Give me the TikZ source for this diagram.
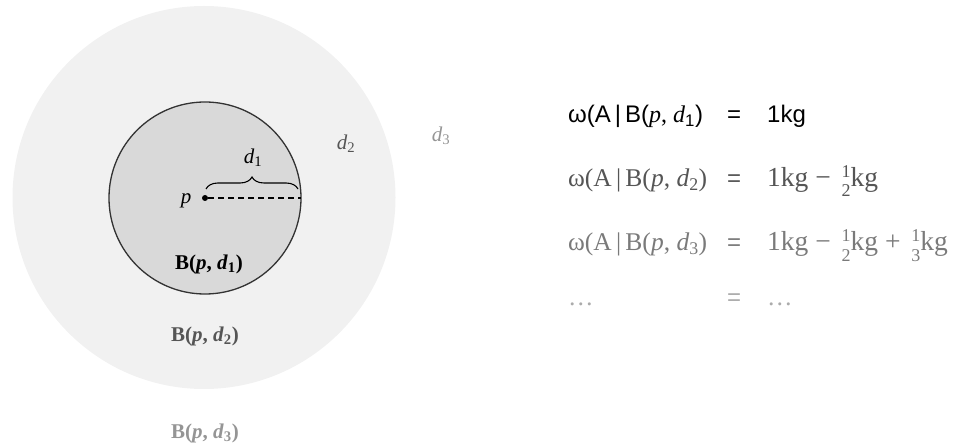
\documentclass[tikz,border=0pt]{standalone}
\usepackage{fontspec}
\setmainfont{Liberation Serif}
\newfontfamily\sansA{Liberation Sans}
\usetikzlibrary{decorations.pathreplacing}
\definecolor{outerfill}{HTML}{F1F1F1}
\definecolor{innerfill}{HTML}{D9D9D9}
\definecolor{edgecol}{HTML}{333333}
\definecolor{grayA}{HTML}{555555}
\definecolor{grayB}{HTML}{7A7A7A}
\definecolor{grayC}{HTML}{ABABAB}
\definecolor{grayD}{HTML}{959595}
\tikzset{
  lbl/.style={inner sep=0pt, font=\fontsize{21}{24}\selectfont},
  eq/.style={inner sep=0pt, anchor=base west, font=\fontsize{25.5}{28}\selectfont},
  eqr/.style={inner sep=0pt, anchor=base west, font=\fontsize{27.5}{30}\selectfont},
  eqs/.style={inner sep=0pt, anchor=base west, font=\sansA\fontsize{24}{28}\selectfont},
}
\newcommand{\halfkg}[2]{\hspace{4pt}\rlap{\raisebox{9pt}{\fontsize{18}{18}\selectfont #1}}\raisebox{-10pt}{\fontsize{18}{18}\selectfont #2}kg}
\begin{document}
\begin{tikzpicture}[x=1pt,y=-1pt]
\useasboundingbox (0,0) rectangle (960,446);
% circles
\fill[outerfill] (204,197.5) circle (191.5);
\draw[edgecol, fill=innerfill, line width=1.3pt] (205,198) circle (96);
\node[circle, fill=black, inner sep=0pt, minimum size=6pt] (p) at (205,198) {};
\coordinate (rim) at (301,198);
\draw[dashed, dash pattern=on 6pt off 4pt, line width=1.1pt] (p) -- (rim);
\draw[decorate, decoration={brace, amplitude=12pt}, line width=1.1pt] (206,189) -- (298,189);
\node[lbl] (d1) at (253,158) {\textit{d}\textsubscript{1}};
\node[lbl] (plbl) at (186,201) {\textit{p}};
\node[lbl] (b1) at (209,264) {\textbf{B(\textit{p}, \textit{d}\textsubscript{1})}};
\node[lbl, text=grayA] (b2) at (205,336) {\textbf{B(\textit{p}, \textit{d}\textsubscript{2})}};
\node[lbl, text=grayD] (b3) at (205,433) {\textbf{B(\textit{p}, \textit{d}\textsubscript{3})}};
\node[lbl, text=grayA] (d2) at (346,144) {\textit{d}\textsubscript{2}};
\node[lbl, text=grayD] (d3) at (441,136) {\textit{d}\textsubscript{3}};
% equations
\node[eqs] (l1) at (568,123) {ω(A\,|\,B(\rmfamily\textit{p}, \textit{d}\textsubscript{\sansA 1}\sansA)};
\node[eqs] (e1) at (727,123) {=};
\node[eqs] (r1) at (767,123) {1kg};
\node[eq, text=grayA] (l2) at (568,187) {ω(A\,|\,B(\textit{p}, \textit{d}\textsubscript{2})};
\node[eqs, text=grayA] (e2) at (727,187) {=};
\node[eqr, text=grayA] (r2) at (767,187) {1kg − \halfkg{1}{2}};
\node[eq, text=grayB] (l3) at (568,251) {ω(A\,|\,B(\textit{p}, \textit{d}\textsubscript{3})};
\node[eqs, text=grayB] (e3) at (727,251) {=};
\node[eqr, text=grayB] (r3) at (767,251) {1kg − \halfkg{1}{2} + \halfkg{1}{3}};
\node[eq, text=grayC] (l4) at (568,305) {…};
\node[eqs, text=grayC] (e4) at (727,305) {=};
\node[eq, text=grayC] (r4) at (767,305) {…};
\end{tikzpicture}
\end{document}
